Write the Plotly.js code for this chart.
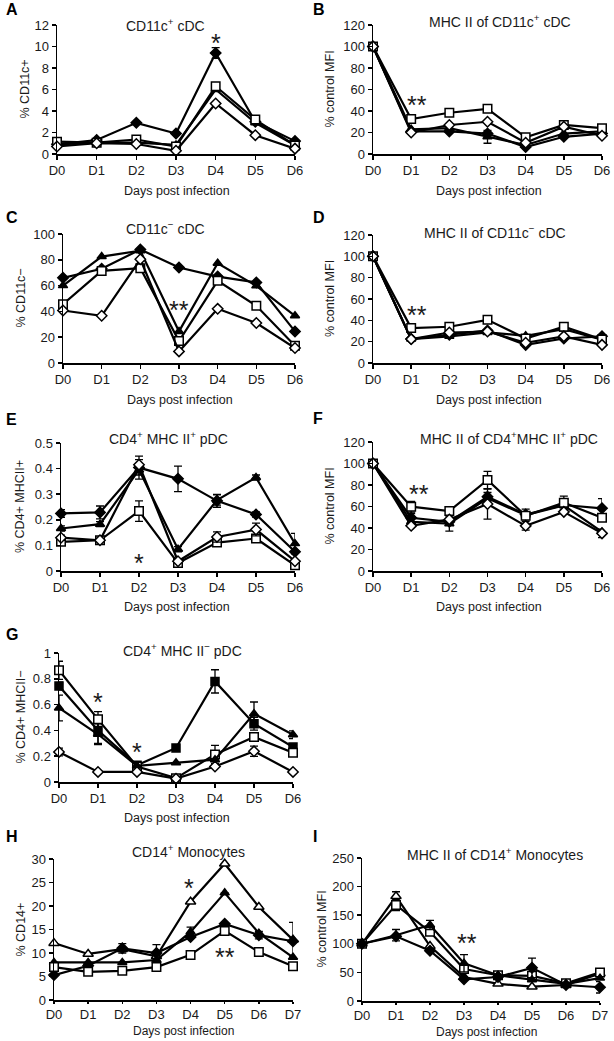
<!DOCTYPE html>
<html>
<head>
<meta charset="utf-8">
<script src="https://cdn.plot.ly/plotly-3.0.1.min.js"></script>
<style>
html,body{margin:0;padding:0;background:#fff;}
#chart{width:614px;height:1041px;}
</style>
</head>
<body>
<div id="chart"></div>
<script>
const days7 = ['D0','D1','D2','D3','D4','D5','D6'];
const days8 = ['D0','D1','D2','D3','D4','D5','D6','D7'];

// Panel A: CD11c+ cDC (% CD11c+)
const A_fDiamond = [0.9, 1.3, 2.9, 1.9, 9.4, 3.0, 1.2];
const A_fDiamond_err = [0, 0, 0.1, 0.1, 0.5, 0, 0];
const A_fTriangle = [0.9, 1.05, 1.05, 0.85, 6.0, 2.9, 0.8];
const A_oSquare = [1.15, 1.05, 1.35, 0.7, 6.3, 3.2, 0.8];
const A_oDiamond = [0.7, 1.0, 0.93, 0.3, 4.7, 1.75, 0.5];

// Panel B: MHC II of CD11c+ cDC (% control MFI)
const B_fDiamond = [100, 21, 21, 19, 6.5, 16, 19];
const B_fTriangle = [100, 23, 24, 16, 8.4, 19, 21];
const B_fTriangle_err = [0, 0, 0, 6, 0, 0, 0];
const B_oSquare = [100, 32.5, 38.4, 42, 15.5, 27, 24];
const B_oDiamond = [100, 20, 27, 30, 10.5, 25.4, 17];

// Panel C: CD11c- cDC (% CD11c-)
const C_fDiamond = [66, 73, 88, 74, 67, 62.4, 24.5];
const C_fTriangle = [60, 82.5, 87, 24.5, 77.3, 59.8, 36.6];
const C_oSquare = [45.6, 71.4, 73.5, 17, 63.7, 44.3, 13.4];
const C_oDiamond = [40.7, 36.6, 80.4, 9, 42, 31, 11.6];

// Panel D: MHC II of CD11c- cDC
const D_fDiamond = [100, 22.4, 26.5, 30.5, 17, 23, 25];
const D_fTriangle = [100, 22.4, 25, 28.7, 25.5, 31.8, 21.8];
const D_oSquare = [100, 32.7, 34, 40.5, 23, 34, 22];
const D_oDiamond = [100, 22.4, 28.6, 29.5, 19, 25, 17];

// Panel E: CD4+ MHC II+ pDC
const E_fDiamond = [0.225, 0.229, 0.404, 0.36, 0.274, 0.221, 0.075];
const E_fDiamond_err = [0.015, 0.025, 0.045, 0.05, 0.025, 0.01, 0];
const E_fTriangle = [0.166, 0.183, 0.395, 0.085, 0.277, 0.365, 0.107];
const E_fTriangle_err = [0.01, 0.01, 0.02, 0.01, 0.02, 0.01, 0.04];
const E_oSquare = [0.114, 0.12, 0.234, 0.031, 0.111, 0.127, 0.022];
const E_oSquare_err = [0, 0, 0.04, 0, 0.01, 0, 0];
const E_oDiamond = [0.13, 0.12, 0.415, 0.038, 0.133, 0.162, 0.038];
const E_oDiamond_err = [0.01, 0, 0.02, 0, 0.02, 0.025, 0];

// Panel F: MHC II of CD4+MHC II+ pDC
const F_fDiamond = [100, 49.5, 45.8, 69, 52.6, 61.4, 58.3];
const F_fDiamond_err = [0, 4, 0, 4, 5, 5, 9];
const F_fTriangle = [100, 45.8, 44, 67.6, 52, 61, 36.4];
const F_fTriangle_err = [0, 0, 7, 0, 0, 0, 0];
const F_oSquare = [100, 59.8, 55.8, 84.7, 51.4, 63.6, 49.5];
const F_oSquare_err = [0, 5, 0, 8, 0, 6, 0];
const F_oDiamond = [100, 42, 48, 62.3, 42, 55, 35];
const F_oDiamond_err = [0, 0, 0, 14, 4, 0, 4];

// Panel G: CD4+ MHC II- pDC
const G_fSquare = [0.744, 0.40, 0.13, 0.264, 0.78, 0.452, 0.271];
const G_fSquare_err = [0.03, 0.1, 0, 0.02, 0.09, 0.05, 0.02];
const G_oSquare = [0.866, 0.486, 0.12, 0.03, 0.214, 0.349, 0.227];
const G_oSquare_err = [0.07, 0.06, 0, 0, 0.07, 0.03, 0];
const G_fTriangle = [0.574, 0.37, 0.125, 0.15, 0.173, 0.53, 0.367];
const G_fTriangle_err = [0.1, 0.08, 0, 0, 0, 0.09, 0.03];
const G_oDiamond = [0.233, 0.078, 0.078, 0.026, 0.12, 0.238, 0.078];
const G_oDiamond_err = [0.03, 0, 0, 0, 0, 0.04, 0];

// Panel H: CD14+ Monocytes
const H_oTriangle = [12.1, 9.8, 10.8, 9.3, 20.9, 29, 19.8, 12.8];
const H_oTriangle_err = [0, 0, 0, 2.5, 0, 0, 0, 3.7];
const H_fTriangle = [8, 8, 8, 8.5, 14.5, 22.8, 14.2, 9.1];
const H_fTriangle_err = [0, 0, 0, 0, 1, 0, 0, 0];
const H_fDiamond = [5.3, 7.3, 11, 10, 13.4, 16.2, 13.8, 12.5];
const H_fDiamond_err = [0, 0, 1, 0, 0, 0, 0.8, 0];
const H_oSquare = [7, 6, 6.2, 7, 9.6, 14.7, 10.2, 7.2];

// Panel I: MHC II of CD14+ Monocytes
const I_oTriangle = [100, 183, 96, 42, 30, 25, 28, 48];
const I_oTriangle_err = [0, 8, 0, 0, 0, 0, 0, 0];
const I_oSquare = [100, 168, 121, 56, 45, 44, 31, 50];
const I_oSquare_err = [0, 10, 0, 0, 0, 0, 0, 0];
const I_fTriangle = [100, 115, 133, 66, 45, 37, 30, 40];
const I_fTriangle_err = [0, 10, 8, 15, 0, 0, 0, 0];
const I_fDiamond = [100, 113, 88, 38, 42, 58, 28, 24];
const I_fDiamond_err = [0, 0, 0, 0, 0, 17, 0, 10];

// ---------------- styling / building ----------------
const W = 614, Ht = 1041;
const FONT = 'Liberation Sans, Arial, sans-serif';
const TXT = '#1a1a1a';

const styles = {
  fDiamond: {symbol: 'diamond', color: 'black', size: 8},
  fTriangle: {symbol: 'triangle-up', color: 'black', size: 8},
  fSquare: {symbol: 'square', color: 'black', size: 8},
  oSquare: {symbol: 'square', color: 'white', size: 8.5},
  oDiamond: {symbol: 'diamond', color: 'white', size: 8},
  oTriangle: {symbol: 'triangle-up', color: 'white', size: 9}
};

const traces = [];
const layout = {
  width: W, height: Ht,
  margin: {l: 0, r: 0, t: 0, b: 0},
  paper_bgcolor: 'white', plot_bgcolor: 'white',
  showlegend: false,
  font: {family: FONT, color: TXT, size: 13},
  annotations: []
};

function sfx(n) { return n === 1 ? '' : String(n); }

function addSeries(n, days, vals, kind, err) {
  const st = styles[kind];
  const tr = {
    type: 'scatter', mode: 'lines+markers',
    x: days.map((d, i) => i), y: vals,
    xaxis: 'x' + sfx(n), yaxis: 'y' + sfx(n),
    line: {color: 'black', width: 2.2},
    marker: {symbol: st.symbol, color: st.color, size: st.size, line: {color: 'black', width: 1.5}},
    cliponaxis: false, hoverinfo: 'skip'
  };
  if (err) {
    tr.error_y = {type: 'data', array: err, visible: true, color: 'black', thickness: 1.3, width: 4};
  }
  traces.push(tr);
}

// p: {n, box:[x0,x1,yTop,yBottom], letter:[x,y,text], title:[cx,cy,text], xt:[cx,cy,size], yt:[cx,text], days, range, dtick, series, stars, xticklen}
function addPanel(p) {
  const [x0, x1, yt, yb] = p.box;
  const n = p.n;
  layout['xaxis' + sfx(n)] = {
    domain: [x0 / W, x1 / W], range: [0, p.days.length - 1],
    tickvals: p.days.map((d, i) => i), ticktext: p.days,
    showline: true, linecolor: 'black', linewidth: 1.5,
    ticks: 'outside', ticklen: p.xticklen || 4, tickcolor: 'black', tickwidth: 1.5,
    showgrid: false, zeroline: false, fixedrange: true,
    anchor: 'y' + sfx(n),
    tickfont: {size: 13, family: FONT, color: TXT}
  };
  layout['yaxis' + sfx(n)] = {
    domain: [1 - yb / Ht, 1 - yt / Ht], range: p.range, dtick: p.dtick,
    showline: true, linecolor: 'black', linewidth: 1.5,
    ticks: 'outside', ticklen: 4, tickcolor: 'black', tickwidth: 1.5,
    showgrid: false, zeroline: false, fixedrange: true,
    anchor: 'x' + sfx(n),
    tickfont: {size: 13, family: FONT, color: TXT}
  };
  p.series.forEach(s => addSeries(n, p.days, s[0], s[1], s[2]));
  const A = layout.annotations;
  A.push({xref: 'paper', yref: 'paper', x: p.letter[0] / W, y: 1 - p.letter[1] / Ht, xanchor: 'left', yanchor: 'middle',
    text: '<b>' + p.letter[2] + '</b>', showarrow: false, font: {size: 16, family: FONT, color: 'black'}});
  A.push({xref: 'paper', yref: 'paper', x: p.title[0] / W, y: 1 - p.title[1] / Ht, xanchor: 'center', yanchor: 'middle',
    text: p.title[2], showarrow: false, font: {size: 14, family: FONT, color: TXT}});
  A.push({xref: 'paper', yref: 'paper', x: p.xt[0] / W, y: 1 - p.xt[1] / Ht, xanchor: 'center', yanchor: 'middle',
    text: 'Days post infection', showarrow: false, font: {size: p.xt[2] || 12.5, family: FONT, color: TXT}});
  A.push({xref: 'paper', yref: 'paper', x: p.yt[0] / W, y: 1 - ((yt + yb) / 2) / Ht, xanchor: 'center', yanchor: 'middle',
    text: p.yt[1], textangle: -90, showarrow: false, font: {size: 12.5, family: FONT, color: TXT}});
  p.stars.forEach(s => A.push({xref: 'x' + sfx(n), yref: 'y' + sfx(n), x: s[0], y: s[1],
    xanchor: 'center', yanchor: 'middle', text: s[2], showarrow: false, font: {size: 25, family: FONT, color: TXT}}));
}

addPanel({n: 1, box: [57, 295, 25, 154], letter: [4, 10, 'A'], title: [165, 25, 'CD11c<sup>+</sup> cDC'],
  xt: [177, 191], yt: [25, '% CD11c+'], days: days7, range: [0, 12], dtick: 2,
  series: [[A_fDiamond, 'fDiamond', A_fDiamond_err], [A_fTriangle, 'fTriangle'], [A_oSquare, 'oSquare'], [A_oDiamond, 'oDiamond']],
  stars: [[4, 10.3, '*']]});
addPanel({n: 2, box: [373, 602, 25, 154], letter: [311, 10, 'B'], title: [500, 21, 'MHC II of CD11c<sup>+</sup> cDC'],
  xt: [489, 191], yt: [330, '% control MFI'], days: days7, range: [0, 120], dtick: 20,
  series: [[B_fDiamond, 'fDiamond'], [B_fTriangle, 'fTriangle', B_fTriangle_err], [B_oSquare, 'oSquare'], [B_oDiamond, 'oDiamond']],
  stars: [[1.15, 46, '**']]});
addPanel({n: 3, box: [63, 295, 234, 363], letter: [4, 217, 'C'], title: [165, 228, 'CD11c<sup>−</sup> cDC'],
  xt: [180, 400], yt: [20, '% CD11c−'], days: days7, range: [0, 100], dtick: 20,
  series: [[C_fDiamond, 'fDiamond'], [C_fTriangle, 'fTriangle'], [C_oSquare, 'oSquare'], [C_oDiamond, 'oDiamond']],
  stars: [[3, 41, '**']]});
addPanel({n: 4, box: [373, 602, 235, 363], letter: [311, 218, 'D'], title: [495, 232, 'MHC II of CD11c<sup>−</sup> cDC'],
  xt: [489, 400], yt: [330, '% control MFI'], days: days7, range: [0, 120], dtick: 20,
  series: [[D_fDiamond, 'fDiamond'], [D_fTriangle, 'fTriangle'], [D_oSquare, 'oSquare'], [D_oDiamond, 'oDiamond']],
  stars: [[1.15, 45, '**']]});
addPanel({n: 5, box: [61, 295, 443, 571], letter: [4, 420, 'E'], title: [168, 438, 'CD4<sup>+</sup> MHC II<sup>+</sup> pDC'],
  xt: [177, 607], yt: [20, '% CD4+ MHCII+'], days: days7, range: [0, 0.5], dtick: 0.1,
  series: [[E_fDiamond, 'fDiamond', E_fDiamond_err], [E_fTriangle, 'fTriangle', E_fTriangle_err], [E_oSquare, 'oSquare', E_oSquare_err], [E_oDiamond, 'oDiamond', E_oDiamond_err]],
  stars: [[2, 0.03, '*']]});
addPanel({n: 6, box: [373, 602, 442, 571], letter: [311, 418, 'F'], title: [509, 438, 'MHC II of CD4<sup>+</sup>MHC II<sup>+</sup> pDC'],
  xt: [489, 607], yt: [329, '% control MFI'], days: days7, range: [0, 120], dtick: 20,
  series: [[F_fDiamond, 'fDiamond', F_fDiamond_err], [F_fTriangle, 'fTriangle', F_fTriangle_err], [F_oSquare, 'oSquare', F_oSquare_err], [F_oDiamond, 'oDiamond', F_oDiamond_err]],
  stars: [[1.2, 72, '**']]});
addPanel({n: 7, box: [59, 293, 653, 782], letter: [4, 634, 'G'], title: [182, 650, 'CD4<sup>+</sup> MHC II<sup>−</sup> pDC'],
  xt: [177, 818], yt: [20, '% CD4+ MHCII−'], days: days7, range: [0, 1], dtick: 0.2,
  series: [[G_fSquare, 'fSquare', G_fSquare_err], [G_oSquare, 'oSquare', G_oSquare_err], [G_fTriangle, 'fTriangle', G_fTriangle_err], [G_oDiamond, 'oDiamond', G_oDiamond_err]],
  stars: [[1, 0.62, '*'], [2, 0.23, '*']]});
addPanel({n: 8, box: [54, 293, 859, 1000], letter: [4, 836, 'H'], title: [188, 851, 'CD14<sup>+</sup> Monocytes'],
  xt: [183, 1031, 12], yt: [20, '% CD14+'], days: days8, range: [0, 30], dtick: 5, xticklen: 2,
  series: [[H_oTriangle, 'oTriangle', H_oTriangle_err], [H_fTriangle, 'fTriangle', H_fTriangle_err], [H_fDiamond, 'fDiamond', H_fDiamond_err], [H_oSquare, 'oSquare']],
  stars: [[3.95, 23.8, '*'], [5, 9.1, '**']]});
addPanel({n: 9, box: [362, 600, 858, 1001], letter: [311, 836, 'I'], title: [495, 854, 'MHC II of CD14<sup>+</sup> Monocytes'],
  xt: [486, 1032, 12], yt: [321, '% control MFI'], days: days8, range: [0, 250], dtick: 50, xticklen: 2,
  series: [[I_oTriangle, 'oTriangle', I_oTriangle_err], [I_oSquare, 'oSquare', I_oSquare_err], [I_fTriangle, 'fTriangle', I_fTriangle_err], [I_fDiamond, 'fDiamond', I_fDiamond_err]],
  stars: [[3.1, 101, '**']]});

Plotly.newPlot('chart', traces, layout, {staticPlot: true, displayModeBar: false});
</script>
</body>
</html>
